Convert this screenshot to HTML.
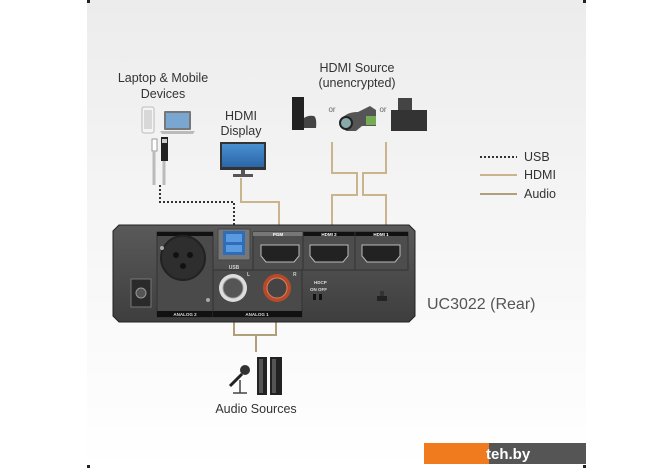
<!DOCTYPE html>
<html><head><meta charset="utf-8"><style>
html,body{margin:0;padding:0;background:#fff;}
svg{display:block;font-family:"Liberation Sans",sans-serif;}
</style></head><body>
<svg width="670" height="471" viewBox="0 0 670 471" xmlns="http://www.w3.org/2000/svg">
<defs>
<linearGradient id="bg" x1="0" y1="0" x2="0" y2="1">
<stop offset="0" stop-color="#ececec"/><stop offset="0.5" stop-color="#f6f6f6"/><stop offset="1" stop-color="#ffffff"/></linearGradient>
<linearGradient id="dev" x1="0" y1="0" x2="0" y2="1">
<stop offset="0" stop-color="#5a5a5a"/><stop offset="1" stop-color="#3e3e3e"/></linearGradient>
<linearGradient id="scr" x1="0" y1="0" x2="0" y2="1">
<stop offset="0" stop-color="#4a90d0"/><stop offset="1" stop-color="#2a66a8"/></linearGradient>
</defs>
<rect x="87" y="0" width="499" height="468" fill="url(#bg)"/>
<rect x="87" y="0" width="3" height="3" fill="#222"/><rect x="583" y="0" width="3" height="3" fill="#222"/>
<rect x="87" y="465" width="3" height="3" fill="#222"/><rect x="583" y="465" width="3" height="3" fill="#222"/>

<g fill="#333" font-size="12.5" text-anchor="middle">
<text x="163" y="82">Laptop &amp; Mobile</text>
<text x="163" y="98">Devices</text>
<text x="357" y="72">HDMI Source</text>
<text x="357" y="87">(unencrypted)</text>
<text x="241" y="120">HDMI</text>
<text x="241" y="135">Display</text>
<text x="256" y="413">Audio Sources</text>
</g>
<text x="427" y="309" font-size="16" fill="#555">UC3022 (Rear)</text>

<!-- phone & laptop -->
<rect x="142" y="107" width="12" height="26" rx="2" fill="#f4f4f4" stroke="#bbb"/>
<rect x="144" y="110" width="8" height="19" fill="#d8d8d8"/>
<rect x="164" y="111" width="27" height="19" rx="1" fill="#777"/>
<rect x="166" y="113" width="23" height="15" fill="#7aa6d2"/>
<path d="M160 131 H195 L193 134 H162 Z" fill="#bbb"/>
<!-- cables -->
<rect x="152" y="139" width="5" height="12" fill="#fff" stroke="#999"/>
<rect x="161" y="137" width="7" height="24" fill="#222"/>
<rect x="162" y="139" width="5" height="4" fill="#ccc"/>
<path d="M154 151 V185 M164 161 V185" stroke="#bbb" stroke-width="3" fill="none"/>
<!-- monitor -->
<rect x="220" y="142" width="46" height="28" fill="#333"/>
<rect x="222" y="144" width="42" height="23" fill="url(#scr)"/>
<rect x="241" y="170" width="4" height="4" fill="#555"/>
<rect x="233" y="174" width="20" height="3" fill="#555"/>
<!-- sources -->
<rect x="292" y="97" width="12" height="33" fill="#222"/>
<path d="M304 118 q4 -3 10 -2 q3 2 2 12 h-12z" fill="#444"/>
<text x="332" y="112" font-size="8" fill="#666" text-anchor="middle">or</text>
<path d="M340 122 q4 -10 18 -10 l12 -6 l6 4 v16 h-14 l-6 5 h-10 z" fill="#555"/>
<circle cx="346" cy="123" r="6" fill="#8aa" stroke="#222" stroke-width="2"/>
<rect x="366" y="116" width="10" height="9" fill="#7a5"/>
<text x="383" y="112" font-size="8" fill="#666" text-anchor="middle">or</text>
<rect x="398" y="98" width="14" height="12" fill="#444"/>
<path d="M391 110 h36 v21 h-36z" fill="#333"/>

<!-- connector lines -->
<g fill="none" stroke-width="2">
<path d="M241 178 V202 H279 V228" stroke="#c9b48d"/>
<path d="M332 142 V173 H357 V195 H332 V228" stroke="#c9b48d"/>
<path d="M386 142 V173 H363 V195 H386 V228" stroke="#c9b48d"/>
<path d="M160 185 V202 H234 V228" stroke="#333" stroke-dasharray="2,2"/>
<path d="M234 318 V335 H276 V318 M256 335 V352" stroke="#b19e7a"/>
</g>
<!-- legend -->
<path d="M480 157 H517" stroke="#333" stroke-width="2" stroke-dasharray="2,2"/>
<path d="M480 175 H517" stroke="#c9b48d" stroke-width="2"/>
<path d="M480 194 H517" stroke="#b19e7a" stroke-width="2"/>
<g font-size="12.5" fill="#333"><text x="524" y="161">USB</text><text x="524" y="179">HDMI</text><text x="524" y="198">Audio</text></g>

<!-- device -->
<path d="M119 225 H409 L415 231 V316 L409 322 H119 L113 316 V231 Z" fill="url(#dev)" stroke="#222"/>
<rect x="131" y="279" width="20" height="28" fill="#2a2a2a" stroke="#777"/>
<circle cx="141" cy="293" r="5" fill="#555" stroke="#999"/>
<!-- analog 2 -->
<rect x="157" y="232" width="56" height="85" fill="#4a4a4a" stroke="#333"/>
<rect x="157" y="232" width="56" height="4" fill="#111"/>
<rect x="157" y="311" width="56" height="6" fill="#111"/>
<text x="185" y="316" font-size="4.5" fill="#ddd" text-anchor="middle" font-weight="bold">ANALOG 2</text>
<circle cx="183" cy="258" r="22" fill="#2e2e2e" stroke="#222" stroke-width="2"/>
<circle cx="176" cy="255" r="3" fill="#111"/><circle cx="190" cy="255" r="3" fill="#111"/><circle cx="183" cy="266" r="3" fill="#111"/>
<circle cx="162" cy="248" r="2" fill="#aaa"/><circle cx="208" cy="300" r="2" fill="#aaa"/>
<!-- usb -->
<rect x="218" y="229" width="32" height="31" fill="#777" stroke="#444"/>
<rect x="223" y="231" width="22" height="24" fill="#2f6db8"/>
<rect x="226" y="234" width="16" height="8" fill="#5a9ae0"/><rect x="226" y="245" width="16" height="7" fill="#5a9ae0"/>
<text x="234" y="269" font-size="5" fill="#ccc" text-anchor="middle" font-weight="bold">USB</text>
<!-- analog 1 -->
<rect x="213" y="270" width="89" height="47" fill="#4a4a4a" stroke="#333"/>
<rect x="213" y="311" width="89" height="6" fill="#111"/>
<text x="257" y="316" font-size="4.5" fill="#ddd" text-anchor="middle" font-weight="bold">ANALOG 1</text>
<circle cx="233" cy="288" r="14" fill="#ddd"/><circle cx="233" cy="288" r="10" fill="#555" stroke="#999"/>
<circle cx="277" cy="288" r="14" fill="#b84a2a"/><circle cx="277" cy="288" r="10" fill="#444" stroke="#e08060"/>
<text x="247" y="276" font-size="5" fill="#ccc" font-weight="bold">L</text>
<text x="293" y="276" font-size="5" fill="#ccc" font-weight="bold">R</text>
<!-- hdmi -->
<rect x="253" y="232" width="155" height="38" fill="#4d4d4d" stroke="#333"/>
<rect x="253" y="232" width="50" height="4" fill="#777"/>
<rect x="303" y="232" width="105" height="4" fill="#111"/>
<path d="M303 232 V270 M355 232 V270" stroke="#333"/>
<g font-size="4.5" fill="#fff" font-weight="bold" text-anchor="middle">
<text x="278" y="236">PGM</text><text x="329" y="236">HDMI 2</text><text x="381" y="236">HDMI 1</text></g>
<g fill="#222" stroke="#bbb" stroke-width="1">
<path d="M261 245 H299 V256 L294 262 H266 L261 256 Z"/>
<path d="M310 245 H348 V256 L343 262 H315 L310 256 Z"/>
<path d="M362 245 H400 V256 L395 262 H367 L362 256 Z"/>
</g>
<g font-size="4.5" fill="#ddd" font-weight="bold">
<text x="314" y="284">HDCP</text><text x="310" y="291">ON OFF</text></g>
<rect x="313" y="294" width="3" height="6" fill="#111"/><rect x="319" y="294" width="3" height="6" fill="#111"/>
<rect x="377" y="296" width="10" height="5" fill="#222"/><rect x="380" y="291" width="4" height="5" fill="#333"/>

<!-- mic & speakers -->
<circle cx="245" cy="370" r="5" fill="#333"/>
<path d="M242 374 L230 386" stroke="#222" stroke-width="3"/>
<path d="M240 380 V393 M233 393 H247" stroke="#444" stroke-width="1.5"/>
<rect x="257" y="357" width="10" height="38" fill="#222"/>
<rect x="270" y="357" width="12" height="38" fill="#222"/>
<rect x="259" y="359" width="4" height="34" fill="#555"/><rect x="272" y="359" width="4" height="34" fill="#555"/>

<!-- logo -->
<rect x="424" y="443" width="65" height="21" fill="#f07a1e"/>
<rect x="489" y="443" width="97" height="21" fill="#555"/>
<text x="486" y="459" font-size="15" fill="#fff" font-weight="bold">teh.by</text>
</svg>
</body></html>
